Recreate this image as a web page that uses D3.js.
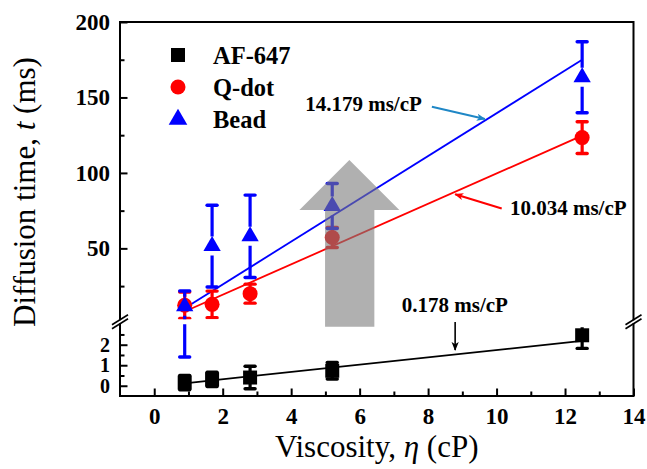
<!DOCTYPE html>
<html>
<head>
<meta charset="utf-8">
<script src="https://cdn.jsdelivr.net/npm/d3@7"></script>
<style>
  html, body { margin: 0; padding: 0; background: #fff; }
  svg { display: block; }
  text { font-family: "Liberation Serif", "Times New Roman", serif; }
</style>
</head>
<body>
<svg id="chart" width="647" height="469"></svg>
<script>
// Viscosity of each solution (cP)
const viscosity = [0.89, 1.69, 2.8, 5.2, 12.5];

// Mean diffusion times (ms) and their standard deviations
const af647Time = [0.15, 0.31, 0.4, 0.73, 2.46];
const af647Err  = [0.35, 0.35, 0.55, 0.4, 0.64];
const qdotTime  = [12.3, 12.9, 20.0, 57.2, 123.4];
const qdotErr   = [8.8, 8.8, 6.3, 6.6, 10.5];
const beadTime  = [11.6, 51.5, 58.0, 78.1, 163.4];
const beadErr   = [10.2, 27.1, 27.3, 14.9, 23.5];

// Linear fits: slope (ms/cP) and intercept (ms)
const fitSlope     = [0.178, 10.034, 14.179];
const fitIntercept = [-0.04, -0.73, -2.23];
const fitLabels    = ["0.178 ms/cP", "10.034 ms/cP", "14.179 ms/cP"];

// Axis ticks
const xMajor = [0, 2, 4, 6, 8, 10, 12, 14];
const xMinor = [1, 3, 5, 7, 9, 11, 13];
const yUpMajor = [50, 100, 150, 200];
const yUpMinor = [25, 75, 125, 175];
const yLowMajor = [0, 1, 2];
const yLowMinor = [0.5, 1.5, 2.5];

const seriesNames = ["AF-647", "Q-dot", "Bead"];
const seriesColors = ["#000000", "#ff0000", "#0000ff"];

const svg = d3.select("#chart");
const L = 120, R = 633.5, T = 22, B = 396;
const breakTop = 319.3, breakBot = 324.2;

const x = d3.scaleLinear().domain([-1, 14]).range([L, R]);
const yUp = d3.scaleLinear().domain([3, 200]).range([breakTop, T]);
const yLow = d3.scaleLinear().domain([-0.5, 3]).range([B, breakBot]);
const yv = v => (v <= 3 ? yLow(v) : yUp(v));

// clip region: the two panels of the broken axis
const defs = svg.append("defs");
const clip = defs.append("clipPath").attr("id", "panels");
clip.append("rect").attr("x", L).attr("y", T).attr("width", R - L).attr("height", breakTop - T);
clip.append("rect").attr("x", L).attr("y", breakBot).attr("width", R - L).attr("height", B - breakBot);
const clipLow = defs.append("clipPath").attr("id", "lowPanel");
clipLow.append("rect").attr("x", L).attr("y", breakBot + 3).attr("width", R - L).attr("height", B - breakBot - 3);

const arrowDefs = [["arrBlue", "#1f87c6"], ["arrRed", "#ff0000"], ["arrBlack", "#000"]];
arrowDefs.forEach(([id, c]) => {
  defs.append("marker").attr("id", id).attr("viewBox", "0 0 10 10")
    .attr("refX", 9).attr("refY", 5).attr("markerWidth", 9).attr("markerHeight", 9)
    .attr("markerUnits", "userSpaceOnUse").attr("orient", "auto")
    .append("path").attr("d", "M0,1 L10,5 L0,9 L2.5,5 Z").attr("fill", c);
});

// ---- axes ----
function styleAxis(size) {
  return g => {
    g.select(".domain").remove();
    g.selectAll("line").attr("stroke", "#000").attr("stroke-width", 2);
    g.selectAll("text").attr("font-size", size).attr("font-weight", "bold")
      .attr("fill", "#000").style("font-family", '"Liberation Serif", serif');
  };
}
const fmt = d3.format("d");

svg.append("g").attr("transform", `translate(${L},0)`)
  .call(d3.axisLeft(yUp).tickValues(yUpMajor).tickSizeInner(-7.5).tickSizeOuter(0).tickPadding(10).tickFormat(fmt))
  .call(styleAxis(23));
svg.append("g").attr("transform", `translate(${L},0)`)
  .call(d3.axisLeft(yUp).tickValues(yUpMinor).tickSizeInner(-4.5).tickSizeOuter(0).tickFormat(""))
  .call(styleAxis(23));
svg.append("g").attr("transform", `translate(${L},0)`)
  .call(d3.axisLeft(yLow).tickValues(yLowMajor).tickSizeInner(-7.5).tickSizeOuter(0).tickPadding(10).tickFormat(fmt))
  .call(styleAxis(20));
svg.append("g").attr("transform", `translate(${L},0)`)
  .call(d3.axisLeft(yLow).tickValues(yLowMinor).tickSizeInner(-4.5).tickSizeOuter(0).tickFormat(""))
  .call(styleAxis(20));
const xg = svg.append("g").attr("transform", `translate(0,${B})`)
  .call(d3.axisBottom(x).tickValues(xMajor).tickSizeInner(-7.5).tickSizeOuter(0).tickFormat(fmt))
  .call(styleAxis(23));
xg.selectAll("text").attr("y", 27.5).attr("dy", null);
svg.append("g").attr("transform", `translate(0,${B})`)
  .call(d3.axisBottom(x).tickValues(xMinor).tickSizeInner(-4.5).tickSizeOuter(0).tickFormat(""))
  .call(styleAxis(23));

// frame with break gaps
const frame = svg.append("g").attr("stroke", "#000").attr("stroke-width", 2).attr("fill", "none");
frame.append("path").attr("d",
  `M${L},${breakTop} L${L},${T} L${R},${T} L${R},${breakTop}` +
  ` M${L},${breakBot} L${L},${B} L${R},${B} L${R},${breakBot}`)
  .attr("stroke-linecap", "square");
[L, R].forEach(px => {
  [breakTop + 0.5, breakBot - 0.5].forEach(py => {
    frame.append("line").attr("x1", px - 8).attr("y1", py + 5)
      .attr("x2", px + 8).attr("y2", py - 5).attr("stroke-width", 1.6);
  });
});

// axis titles
const yTitle = svg.append("text")
  .attr("transform", `translate(35,192) rotate(-90)`)
  .attr("text-anchor", "middle").attr("font-size", 31).attr("fill", "#000");
yTitle.append("tspan").text("Diffusion time, ");
yTitle.append("tspan").attr("font-style", "italic").text("t");
yTitle.append("tspan").text(" (ms)");

const xTitle = svg.append("text")
  .attr("x", (L + R) / 2).attr("y", 457)
  .attr("text-anchor", "middle").attr("font-size", 31).attr("fill", "#000");
xTitle.append("tspan").text("Viscosity, ");
xTitle.append("tspan").attr("font-style", "italic").text("η");
xTitle.append("tspan").text(" (cP)");

// ---- data layer ----
const plot = svg.append("g");
const clipped = plot.append("g").attr("clip-path", "url(#panels)");
const clippedLow = plot.append("g").attr("clip-path", "url(#lowPanel)");

// fitted lines
const fitScales = [yLow, yUp, yUp];
fitSlope.forEach((s, k) => {
  const x0 = viscosity[0], x1 = viscosity[viscosity.length - 1];
  const ys = fitScales[k];
  clipped.append("line")
    .attr("x1", x(x0)).attr("y1", ys(s * x0 + fitIntercept[k]))
    .attr("x2", x(x1)).attr("y2", ys(s * x1 + fitIntercept[k]))
    .attr("stroke", seriesColors[k]).attr("stroke-width", 1.8);
});

const series = [
  { mean: af647Time, err: af647Err, color: seriesColors[0], symbol: d3.symbolSquare, size: 196, gap: 0, y: yLow, layer: clippedLow },
  { mean: qdotTime,  err: qdotErr,  color: seriesColors[1], symbol: d3.symbolCircle, size: 177, gap: 0, y: yv, layer: clipped },
  { mean: beadTime,  err: beadErr,  color: seriesColors[2], symbol: d3.symbolTriangle, size: 130, gap: 9.5, y: yv, layer: clipped }
];

series.forEach(s => {
  const eb = s.layer.append("g").attr("stroke", s.color).attr("fill", "none");
  viscosity.forEach((v, i) => {
    const cx = x(v), cy = s.y(s.mean[i]);
    const top = s.y(s.mean[i] + s.err[i]);
    const bot = s.y(s.mean[i] - s.err[i]);
    if (top < cy - s.gap)
      eb.append("line").attr("x1", cx).attr("x2", cx).attr("y1", cy - s.gap).attr("y2", top).attr("stroke-width", 3.2);
    if (bot > cy + s.gap)
      eb.append("line").attr("x1", cx).attr("x2", cx).attr("y1", cy + s.gap).attr("y2", bot).attr("stroke-width", 3.2);
    [top, bot].forEach(yy => {
      eb.append("line").attr("x1", cx - 5).attr("x2", cx + 5).attr("y1", yy).attr("y2", yy)
        .attr("stroke-width", 3.4).attr("stroke-linecap", "round");
    });
  });
  plot.append("g").selectAll("path").data(viscosity).join("path")
    .attr("transform", (v, i) => `translate(${x(v)},${s.y(s.mean[i])})`)
    .attr("d", d3.symbol(s.symbol, s.size)())
    .attr("fill", s.color);
});

// ---- legend ----
const legend = svg.append("g");
const legendY = [55, 87, 119.5];
series.forEach((s, k) => {
  legend.append("path")
    .attr("transform", `translate(178,${legendY[k]})`)
    .attr("d", d3.symbol(s.symbol, k === 2 ? 150 : s.size)())
    .attr("fill", s.color);
  legend.append("text").attr("x", 213).attr("y", legendY[k] + 8.5)
    .attr("font-size", 24.5).attr("font-weight", "bold").attr("fill", "#000")
    .text(seriesNames[k]);
});

// ---- slope annotations ----
const ann = svg.append("g");
function label(txt, xv, yPix) {
  ann.append("text").attr("x", x(xv)).attr("y", yPix)
    .attr("font-size", 21).attr("font-weight", "bold").attr("fill", "#000").text(txt);
}
label(fitLabels[2], 4.41, yUp(140.8));
label(fitLabels[1], 10.39, yUp(72));
label(fitLabels[0], 7.23, yLow(3.6));

ann.append("line").attr("x1", x(8.11)).attr("y1", yUp(143.8)).attr("x2", x(9.66)).attr("y2", yUp(135.7))
  .attr("stroke", "#1f87c6").attr("stroke-width", 2).attr("marker-end", "url(#arrBlue)");
ann.append("line").attr("x1", x(10.15)).attr("y1", yUp(76.4)).attr("x2", x(8.79)).attr("y2", yUp(85.9))
  .attr("stroke", "#ff0000").attr("stroke-width", 2).attr("marker-end", "url(#arrRed)");
ann.append("line").attr("x1", x(8.79)).attr("y1", yLow(3.11)).attr("x2", x(8.79)).attr("y2", yLow(1.74))
  .attr("stroke", "#000").attr("stroke-width", 1.6).attr("marker-end", "url(#arrBlack)");

// ---- big translucent arrow: increasing diffusion time with viscosity ----
const shaftL = x(4.99), shaftR = x(6.43), headL = x(4.24), headR = x(7.16), tipX = x(5.70);
const baseY = yUp(-2), headY = yUp(75.4), tipY = yUp(108.5);
svg.append("path")
  .attr("d", `M${shaftL},${baseY} L${shaftL},${headY} L${headL},${headY} L${tipX},${tipY}` +
             ` L${headR},${headY} L${shaftR},${headY} L${shaftR},${baseY} Z`)
  .attr("fill", "#7b7b7b").attr("fill-opacity", 0.6);
</script>
</body>
</html>
